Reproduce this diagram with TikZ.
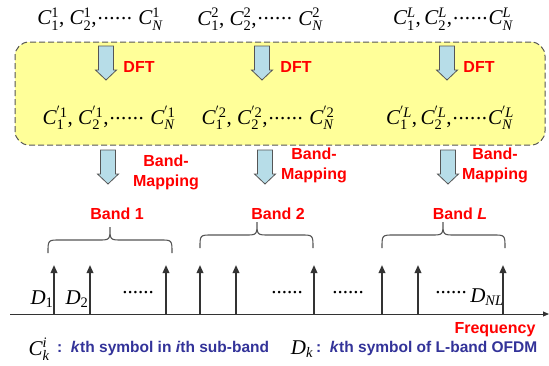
\documentclass[tikz,border=0pt]{standalone}
\usepackage{fontspec}
\setsansfont{Liberation Sans}
\newfontfamily\tnr{Liberation Serif}
\usetikzlibrary{arrows.meta}
\definecolor{boxyellow}{RGB}{255,255,153}
\definecolor{arrowblue}{RGB}{183,221,232}
\definecolor{legblue}{RGB}{51,51,153}
\definecolor{edgegray}{RGB}{85,85,85}
\definecolor{spikegray}{RGB}{51,51,51}
\newcommand\scr[1]{\mbox{\tnr\fontsize{14.5}{14.5}\selectfont #1}}
\newcommand\sy[3]{\mbox{\tnr\itshape #1}$_{\scr{#2}}^{\scr{#3}}$}
\newcommand\syd[2]{\mbox{\tnr\itshape #1}$_{\scr{#2}}$}
\newcommand\dd{\raisebox{0.25em}{\kern1pt.\kern0.6pt.\kern0.6pt.\kern0.6pt.\kern0.6pt.\kern0.6pt.\kern1pt}}
\newcommand\bandbrace[6]{% x1, xt, x2, ytip, yline, yend
  \draw[bracestyle] (#1,#6) .. controls (#1,#5) .. (#1+12,#5) -- (#2-12,#5)
    .. controls (#2,#5) .. (#2,#4) .. controls (#2,#5) .. (#2+12,#5)
    -- (#3-12,#5) .. controls (#3,#5) .. (#3,#6);}
\begin{document}
\begin{tikzpicture}[x=1pt,y=-1pt,
  redlbl/.style={text=red, font=\sffamily\bfseries\fontsize{16}{20}\selectfont, align=center, inner sep=0pt},
  leglbl/.style={text=legblue, font=\sffamily\bfseries\fontsize{15.5}{18}\selectfont, inner sep=0pt},
  mathlbl/.style={font=\tnr\fontsize{21}{24}\selectfont, inner sep=0pt},
  spike/.style={line width=1.8pt, draw=spikegray, -{Triangle[length=8pt,width=6.5pt]}},
  bracestyle/.style={draw=edgegray, line width=1.1pt},
  pics/barrow/.style={code={\draw[fill=arrowblue, draw=edgegray, line width=0.8pt]
     (-7.5,0) -- (7.5,0) -- (7.5,24) -- (10.5,24) -- (0,34) -- (-10.5,24) -- (-7.5,24) -- cycle;}}]
\useasboundingbox (0,0) rectangle (549,365);

% yellow box
\node[draw=edgegray, fill=boxyellow, dashed, dash pattern=on 6pt off 3pt, line width=1pt,
      rounded corners=14pt, minimum width=530pt, minimum height=103pt, inner sep=0pt] (box) at (280,93.5) {};

% top row
\node[mathlbl] (r1a) at (100,19) {\sy{C}{1}{1}, \sy{C}{2}{1},\dd\ \sy{C}{\itshape N}{1}};
\node[mathlbl] (r1b) at (260,19) {\sy{C}{1}{2}, \sy{C}{2}{2},\dd\ \sy{C}{\itshape N}{2}};
\node[mathlbl] (r1c) at (453,19) {\sy{C}{1}{\itshape L},\,\sy{C}{2}{\itshape L},\dd\sy{C}{\itshape N}{\itshape L}};

% DFT arrows
\pic (d1) at (106,46) {barrow};
\pic (d2) at (262,46) {barrow};
\pic (d3) at (447,46) {barrow};
\node[redlbl] (dft1) at (139,67) {DFT};
\node[redlbl] (dft2) at (296,67) {DFT};
\node[redlbl] (dft3) at (479,67) {DFT};

% second row
\node[mathlbl] (r2a) at (109,118) {\sy{C}{1}{$^\prime$1}, \sy{C}{2}{$^\prime$1},\dd\ \sy{C}{\itshape N}{$^\prime$1}};
\node[mathlbl] (r2b) at (268,118) {\sy{C}{1}{$^\prime$2}, \sy{C}{2}{$^\prime$2},\dd\ \sy{C}{\itshape N}{$^\prime$2}};
\node[mathlbl] (r2c) at (450,118) {\sy{C}{1}{$^\prime$\itshape L},\,\sy{C}{2}{$^\prime$\itshape L},\dd\sy{C}{\itshape N}{$^\prime$\itshape L}};

% band mapping arrows
\pic (m1) at (108,150) {barrow};
\pic (m2) at (265,150) {barrow};
\pic (m3) at (448,150) {barrow};
\node[redlbl] (bm1) at (166,172) {Band-\\Mapping};
\node[redlbl] (bm2) at (314,165.5) {Band-\\Mapping};
\node[redlbl] (bm3) at (495,165.5) {Band-\\Mapping};

% band labels
\node[redlbl] (band1) at (117,214) {Band 1};
\node[redlbl] (band2) at (278,214) {Band 2};
\node[redlbl] (bandL) at (460,214) {Band \textit{L}};

% braces
\bandbrace{48}{110}{172}{227}{240}{253}
\bandbrace{200}{257}{313}{222}{235}{248}
\bandbrace{382}{443}{505}{222}{235}{248}

% frequency axis
\coordinate (ax0) at (10,314);
\coordinate (ax1) at (549,314);
\draw[line width=1pt, draw=spikegray, -{Triangle[length=6pt,width=5pt]}] (ax0) -- (ax1);

% spikes
\foreach \i/\x in {1/54,2/90,3/166,4/200,5/236,6/314,7/382,8/418,9/503}{
  \coordinate (sb\i) at (\x,314);
  \coordinate (st\i) at (\x,265);
  \draw[spike] (sb\i) -- (st\i);
}

% spike labels
\node[mathlbl] (D1) at (42,299) {\syd{D}{1}};
\node[mathlbl] (D2) at (77,299) {\syd{D}{2}};
\node[mathlbl] (DNL) at (487,297) {\syd{D}{\itshape NL}};
\node[mathlbl] (dots1) at (138,293) {......};
\node[mathlbl] (dots2) at (287,293) {......};
\node[mathlbl] (dots3) at (348,293) {......};
\node[mathlbl] (dots4) at (451,293) {......};

\node[redlbl] (freq) at (495,330) {Frequency};

% legend
\node[mathlbl] (ck) at (39,349) {\sy{C}{\itshape k}{\itshape i}};
\node[leglbl, anchor=west] (cktxt) at (57,348) {:\ \ \textit{k}th symbol in \textit{i}th sub-band};
\node[mathlbl] (dk) at (302,349) {\syd{D}{\itshape k}};
\node[leglbl, anchor=west] (dktxt) at (316,348) {:\ \ \textit{k}th symbol of L-band OFDM};
\end{tikzpicture}
\end{document}
